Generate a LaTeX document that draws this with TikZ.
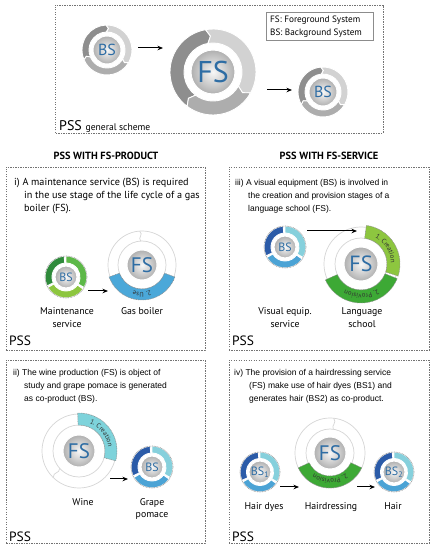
\documentclass[tikz,border=0pt]{standalone}
\usepackage{fontspec}
\setmainfont{PT Sans}
\newfontfamily\ari{Liberation Sans}
\usetikzlibrary{arrows.meta,decorations.text}
\definecolor{fsblue}{HTML}{2E6DA4}
\definecolor{gdk}{HTML}{8E8E8E}
\definecolor{glt}{HTML}{D2D2D2}
\definecolor{gmd}{HTML}{ADADAD}
\definecolor{grdk}{HTML}{2F8A3B}
\definecolor{grmd}{HTML}{5DB848}
\definecolor{grlt}{HTML}{8DC63F}
\definecolor{bldk}{HTML}{2B5BA8}
\definecolor{blmd}{HTML}{4BA3D5}
\definecolor{bllt}{HTML}{86D0DC}
\definecolor{useblue}{HTML}{4BA8D9}
\definecolor{crgreen}{HTML}{8DC63F}
\definecolor{prgreen}{HTML}{3DA935}
\definecolor{wcyan}{HTML}{7ED3DB}
% annular (chevron) segment: center, a1, a2 (a1>a2), r, R, d, style
\newcommand\chev[7]{%
  \path[#7] ([shift={(#2:#5)}]#1) arc[start angle=#2,end angle=#3,radius=#5]
    -- ([shift={({#3-#6}:{(#4+#5)/2})}]#1)
    -- ([shift={(#3:#4)}]#1) arc[start angle=#3,end angle=#2,radius=#4]
    -- ([shift={({#2-#6}:{(#4+#5)/2})}]#1) -- cycle;}
\tikzset{
  dbox/.style={draw=black!55, line width=0.6pt, dash pattern=on 1.4pt off 1.1pt},
  arr/.style={-{Stealth[length=5.5pt,width=4.5pt]}, line width=1pt},
  sph/.style={circle, inner sep=0pt, shade, inner color=gray!6, outer color=gray!62, draw=white, line width=1pt, text=fsblue},
  thinring/.style={draw=black!16, line width=0.7pt},
  ptxt/.style={anchor=base west, font=\fontsize{10.2}{12}\selectfont},
  atxt/.style={anchor=base west, font=\ari\fontsize{8.5}{10}\selectfont},
  lbl/.style={anchor=base, font=\fontsize{9.8}{11}\selectfont},
  psslbl/.style={anchor=base west, font=\fontsize{13.5}{15}\selectfont},
  gsep/.style={fill=#1, draw=white, line width=0.9pt},
  band/.style={fill=#1, draw=black!45, line width=0.5pt, dash pattern=on 1pt off 0.7pt},
  gear/.style={draw=black!40, line width=0.6pt, dash pattern=on 0.9pt off 0.7pt},
  segtxt/.style={decorate, decoration={text along path, text align=center, text color=black!80, text={|\fontsize{6.8}{7}\selectfont|#1}}},
}
\begin{document}
\begin{tikzpicture}[x=1pt,y=1pt]
\useasboundingbox (0,0) rectangle (435,550);
\fill[white] (0,0) rectangle (435,550);

% ---------- top general scheme ----------
\draw[dbox] (55,417) rectangle (383,545);
\draw[draw=black!45, line width=0.6pt] (266,510) rectangle (373,538);
\node[anchor=base west, font=\fontsize{9.2}{10}\selectfont, inner sep=0pt] (lg1) at (270,527) {FS: Foreground System};
\node[anchor=base west, font=\fontsize{9.2}{10}\selectfont, inner sep=0pt] (lg2) at (270,514) {BS: Background System};

\coordinate (cA) at (107,500);
\coordinate (cB) at (213,478);
\coordinate (cC) at (323,458);
\chev{cA}{203}{92}{18}{25}{6}{gsep=gdk}
\chev{cA}{92}{-30}{18}{25}{6}{gsep=glt}
\chev{cA}{330}{203}{18}{25}{6}{gsep=gmd}
\node[sph, minimum size=28pt, font=\fontsize{16}{16}\selectfont] (sA) at (cA) {BS};
\chev{cB}{233}{100}{29}{43}{6}{gsep=gdk}
\chev{cB}{100}{-29}{29}{43}{6}{gsep=glt}
\chev{cB}{331}{233}{29}{43}{6}{gsep=gmd}
\node[sph, minimum size=44pt, font=\fontsize{30}{30}\selectfont] (sB) at (cB) {FS};
\chev{cC}{210}{95}{18}{25}{6}{gsep=gdk}
\chev{cC}{95}{-30}{18}{25}{6}{gsep=glt}
\chev{cC}{330}{210}{18}{25}{6}{gsep=gmd}
\node[sph, minimum size=28pt, font=\fontsize{16}{16}\selectfont] (sC) at (cC) {BS};
\coordinate (a1s) at (138,502); \coordinate (a1e) at (163,502);
\coordinate (a2s) at (267,460); \coordinate (a2e) at (292,460);
\draw[arr] (a1s) -- (a1e);
\draw[arr] (a2s) -- (a2e);
\node[anchor=base west, inner sep=0pt] (pssT) at (59,419) {\fontsize{14}{15}\selectfont PSS \fontsize{9.6}{10}\selectfont general scheme};

% ---------- headings ----------
\node[font=\bfseries\fontsize{10.4}{12}\selectfont] (h1) at (106,394) {PSS WITH FS-PRODUCT};
\node[font=\bfseries\fontsize{10.4}{12}\selectfont] (h2) at (329,394) {PSS WITH FS-SERVICE};

% ---------- panel boxes ----------
\draw[dbox] (6,200) rectangle (205,383);
\draw[dbox] (229,200) rectangle (429,383);
\draw[dbox] (6,7) rectangle (205,190);
\draw[dbox] (229,7) rectangle (429,190);

% ---------- panel i ----------
\node[ptxt, inner sep=0pt] (t1a) at (14,364) {i) A maintenance service (BS) is required};
\node[ptxt, inner sep=0pt] (t1b) at (24,351) {in the use stage of the life cycle of a gas};
\node[ptxt, inner sep=0pt] (t1c) at (24,338) {boiler (FS).};
\coordinate (cD) at (66,273);
\chev{cD}{205}{95}{14}{21}{0}{gsep=grdk}
\chev{cD}{90}{-30}{14}{21}{0}{gsep=grmd}
\chev{cD}{-35}{-150}{14}{21}{0}{gsep=grlt}
\draw[gear] (cD) circle[radius=21];
\node[sph, minimum size=22pt, font=\fontsize{12}{12}\selectfont] (sD) at (cD) {BS};
\coordinate (cE) at (142,285);
\draw[thinring] (cE) circle[radius=34];
\draw[thinring] (cE) circle[radius=24];
\draw[thinring] ([shift={(93:24)}]cE) .. controls ([shift={(100:28)}]cE) and ([shift={(86:30)}]cE) .. ([shift={(94:34)}]cE);
\chev{cE}{340}{200}{24}{35}{0}{band=useblue}
\path[segtxt={2. Use}] ([shift={(335:27.3)}]cE) arc[start angle=335,end angle=205,radius=27.3];
\node[sph, minimum size=30pt, font=\fontsize{21}{21}\selectfont] (sE) at (cE) {FS};
\coordinate (a3s) at (88,259); \coordinate (a3e) at (108,259);
\draw[arr] (a3s) -- (a3e);
\node[lbl] (l1a) at (67,235) {Maintenance};
\node[lbl] (l1b) at (67,222) {service};
\node[lbl] (l1c) at (142,235) {Gas boiler};
\node[psslbl, inner sep=0pt] (p1) at (9,204) {PSS};

% ---------- panel iii ----------
\node[atxt, inner sep=0pt] (t3a) at (235,364) {iii) A visual equipment (BS) is involved in};
\node[atxt, inner sep=0pt] (t3b) at (248,351) {the creation and provision stages of a};
\node[atxt, inner sep=0pt] (t3c) at (248,338) {language school (FS).};
\coordinate (cF) at (285,303);
\chev{cF}{205}{95}{14}{21}{0}{gsep=bldk}
\chev{cF}{90}{-30}{14}{21}{0}{gsep=bllt}
\chev{cF}{-35}{-150}{14}{21}{0}{gsep=blmd}
\draw[gear] (cF) circle[radius=21];
\node[sph, minimum size=22pt, font=\fontsize{12}{12}\selectfont] (sF) at (cF) {BS};
\coordinate (cG) at (361,286);
\draw[thinring] (cG) circle[radius=37];
\draw[thinring] (cG) circle[radius=26];
\chev{cG}{82}{-18}{26}{39}{0}{band=crgreen}
\chev{cG}{-22}{-156}{26}{39}{0}{band=prgreen}
\path[segtxt={1. Creation}] ([shift={(80:30)}]cG) arc[start angle=80,end angle=-16,radius=30];
\path[segtxt={2. Provision}] ([shift={(-24:30)}]cG) arc[start angle=-24,end angle=-154,radius=30];
\node[sph, minimum size=34pt, font=\fontsize{22}{22}\selectfont] (sG) at (cG) {FS};
\coordinate (a4s) at (307,319); \coordinate (a4e) at (357,319);
\draw[arr] (a4s) -- (a4e);
\node[lbl] (l3a) at (285,235) {Visual equip.};
\node[lbl] (l3b) at (285,222) {service};
\node[lbl] (l3c) at (362,235) {Language};
\node[lbl] (l3d) at (362,222) {school};
\node[psslbl, inner sep=0pt] (p3) at (232,204) {PSS};

% ---------- panel ii ----------
\node[atxt, inner sep=0pt] (t2a) at (13,174) {ii) The wine production (FS) is object of};
\node[atxt, inner sep=0pt] (t2b) at (24,161) {study and grape pomace is generated};
\node[atxt, inner sep=0pt] (t2c) at (24,148) {as co-product (BS).};
\coordinate (cH) at (79,99);
\draw[thinring] (cH) circle[radius=37];
\draw[thinring] (cH) circle[radius=26];
\draw[thinring] ([shift={(222:26)}]cH) .. controls ([shift={(230:30)}]cH) and ([shift={(218:33)}]cH) .. ([shift={(226:37)}]cH);
\chev{cH}{92}{-15}{26}{38}{0}{band=wcyan}
\path[segtxt={1. Creation}] ([shift={(90:29.5)}]cH) arc[start angle=90,end angle=-13,radius=29.5];
\node[sph, minimum size=32pt, font=\fontsize{21}{21}\selectfont] (sH) at (cH) {FS};
\coordinate (cI) at (152,83);
\chev{cI}{205}{95}{14}{21}{0}{gsep=bldk}
\chev{cI}{90}{-30}{14}{21}{0}{gsep=bllt}
\chev{cI}{-35}{-150}{14}{21}{0}{gsep=blmd}
\draw[gear] (cI) circle[radius=21];
\node[sph, minimum size=22pt, font=\fontsize{12}{12}\selectfont] (sI) at (cI) {BS};
\coordinate (a5s) at (110,71); \coordinate (a5e) at (128,71);
\draw[arr] (a5s) -- (a5e);
\node[lbl] (l2a) at (83,45) {Wine};
\node[lbl] (l2b) at (152,45) {Grape};
\node[lbl] (l2c) at (152,32) {pomace};
\node[psslbl, inner sep=0pt] (p2) at (9,9) {PSS};

% ---------- panel iv ----------
\node[atxt, inner sep=0pt] (t4a) at (234,174) {iv) The provision of a hairdressing service};
\node[atxt, inner sep=0pt] (t4b) at (249,161) {(FS) make use of hair dyes (BS1) and};
\node[atxt, inner sep=0pt] (t4c) at (249,148) {generates hair (BS2) as co-product.};
\coordinate (cJ) at (260,78);
\chev{cJ}{205}{95}{13.5}{20}{0}{gsep=bldk}
\chev{cJ}{90}{-30}{13.5}{20}{0}{gsep=bllt}
\chev{cJ}{-35}{-150}{13.5}{20}{0}{gsep=blmd}
\draw[gear] (cJ) circle[radius=20];
\node[sph, minimum size=22pt, font=\fontsize{12}{12}\selectfont] (sJ) at (cJ) {BS\textsubscript{1}};
\coordinate (cK) at (330,97);
\draw[thinring] (cK) circle[radius=35];
\draw[thinring] (cK) circle[radius=24];
\draw[thinring] ([shift={(82:24)}]cK) .. controls ([shift={(88:28)}]cK) and ([shift={(76:31)}]cK) .. ([shift={(84:35)}]cK);
\chev{cK}{-25}{-155}{23}{35}{0}{band=prgreen}
\path[segtxt={2. Provision}] ([shift={(-27:26)}]cK) arc[start angle=-27,end angle=-153,radius=26];
\node[sph, minimum size=32pt, font=\fontsize{21}{21}\selectfont] (sK) at (cK) {FS};
\coordinate (cL) at (394,78);
\chev{cL}{205}{95}{13.5}{20}{0}{gsep=bldk}
\chev{cL}{90}{-30}{13.5}{20}{0}{gsep=bllt}
\chev{cL}{-35}{-150}{13.5}{20}{0}{gsep=blmd}
\draw[gear] (cL) circle[radius=20];
\node[sph, minimum size=22pt, font=\fontsize{12}{12}\selectfont] (sL) at (cL) {BS\textsubscript{2}};
\coordinate (a6s) at (280,63); \coordinate (a6e) at (299,63);
\coordinate (a7s) at (357,63); \coordinate (a7e) at (375,63);
\draw[arr] (a6s) -- (a6e);
\draw[arr] (a7s) -- (a7e);
\node[lbl] (l4a) at (264,41) {Hair dyes};
\node[lbl] (l4b) at (331,41) {Hairdressing};
\node[lbl] (l4c) at (393,41) {Hair};
\node[psslbl, inner sep=0pt] (p4) at (232,9) {PSS};
\end{tikzpicture}
\end{document}
